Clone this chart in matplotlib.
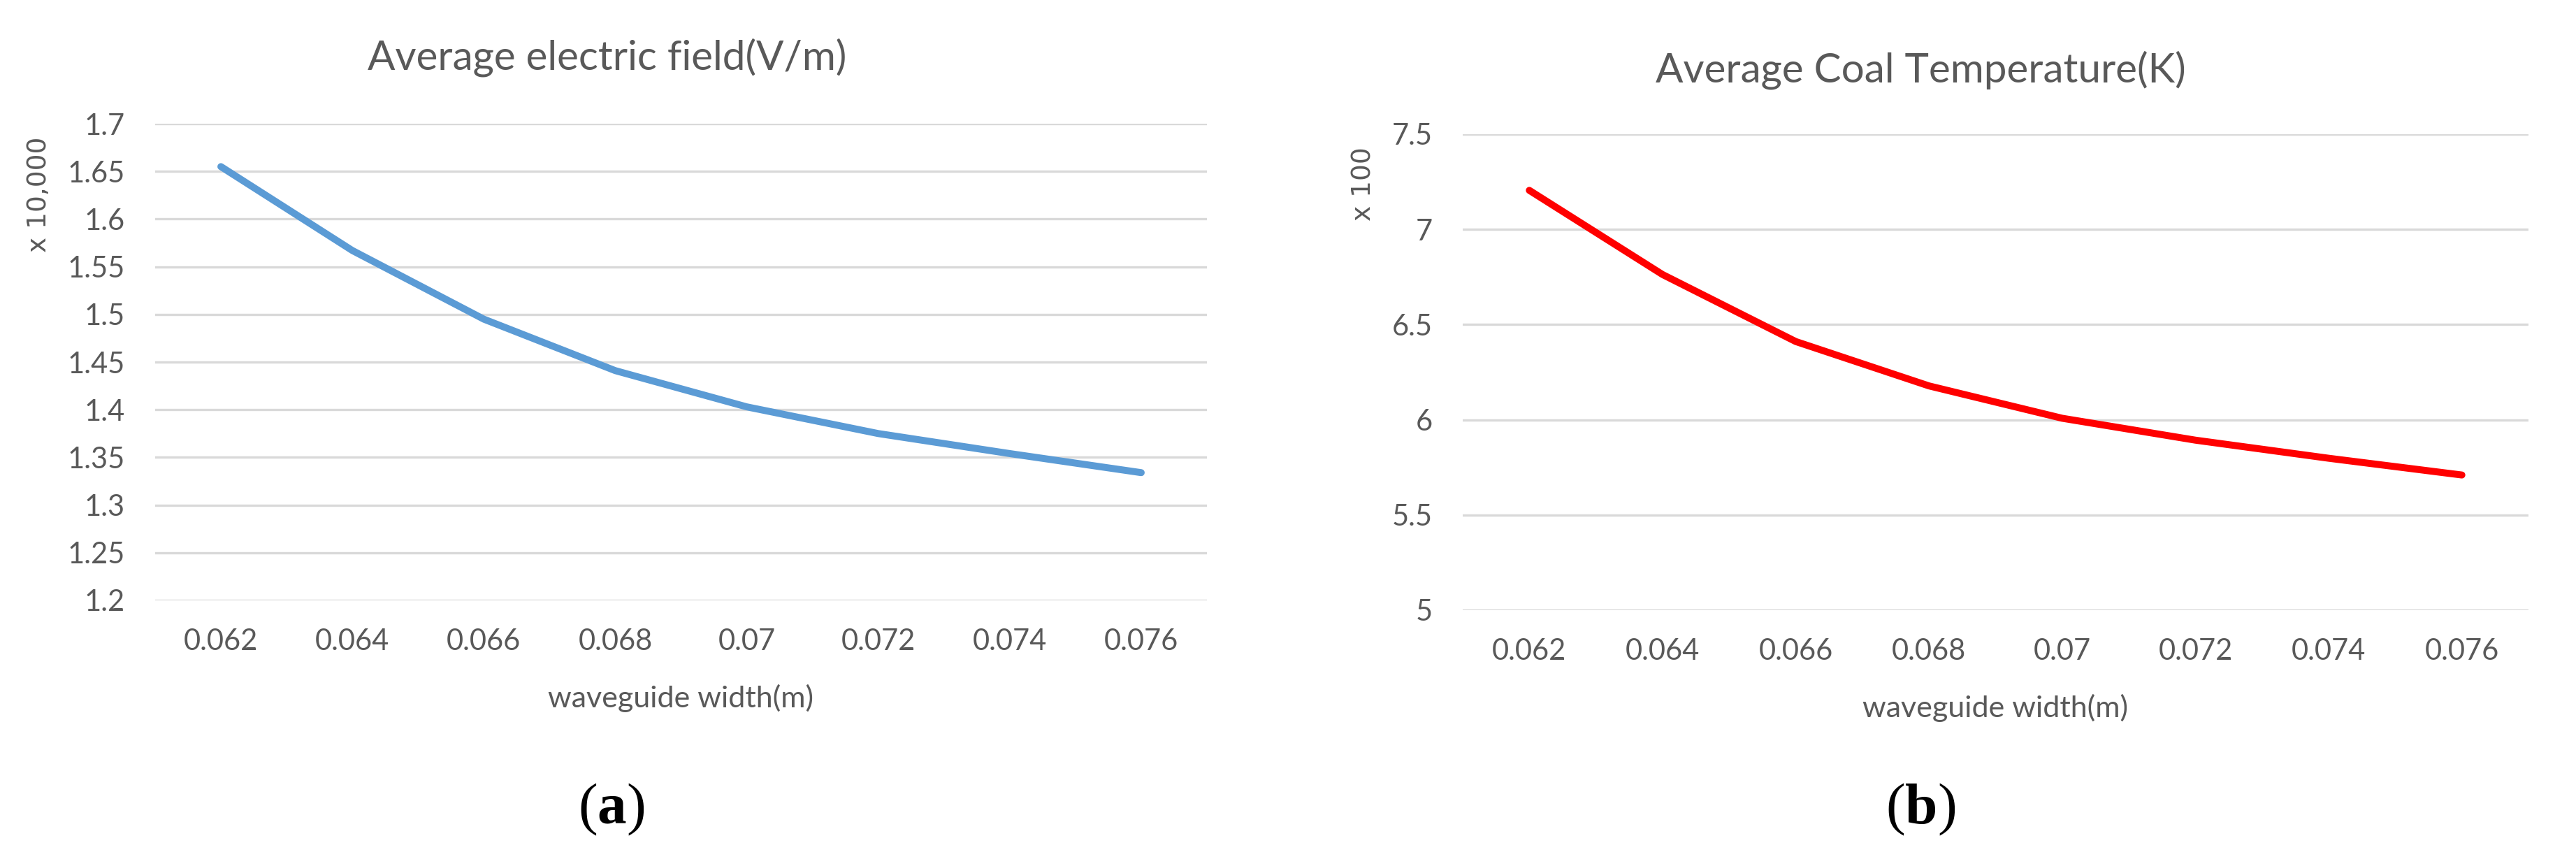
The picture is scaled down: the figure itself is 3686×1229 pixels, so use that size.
import matplotlib
matplotlib.use("Agg")
import matplotlib.pyplot as plt
from matplotlib.ticker import FixedLocator

# waveguide widths (m), shown as evenly spaced categories like the Excel chart
widths = ["0.062", "0.064", "0.066", "0.068", "0.07", "0.072", "0.074", "0.076"]

# average electric field, in units of 10,000 V/m
efield = [1.655, 1.567, 1.495, 1.441, 1.403, 1.375, 1.354, 1.334]
efield_ticks = [1.2, 1.25, 1.3, 1.35, 1.4, 1.45, 1.5, 1.55, 1.6, 1.65, 1.7]

# average coal temperature, in units of 100 K
coal_temp = [7.205, 6.763, 6.411, 6.178, 6.008, 5.893, 5.798, 5.710]
temp_ticks = [5, 5.5, 6, 6.5, 7, 7.5]

GREY = "#595959"
GRID = "#d9d9d9"
W, H = 3687, 1229

plt.rcParams["font.family"] = ["Lato", "DejaVu Sans"]
plt.rcParams["mathtext.fontset"] = "custom"
plt.rcParams["mathtext.rm"] = "Liberation Serif"
plt.rcParams["mathtext.bf"] = "Liberation Serif:bold"


def draw_panel(fig, rect, values, ticks, color, title, unit, tag, title_xy, unit_x, tag_xy):
    ax = fig.add_axes(rect)
    x = range(len(widths))
    ax.plot(x, values, color=color, lw=7.2, solid_capstyle="round", solid_joinstyle="round", zorder=3)

    ax.set_xlim(-0.5, len(widths) - 0.5)
    ax.set_ylim(ticks[0], ticks[-1])
    ax.xaxis.set_major_locator(FixedLocator(list(x)))
    ax.set_xticklabels(widths)
    ax.set_yticks(ticks)
    ax.set_yticklabels([f"{t:g}" for t in ticks])

    ax.grid(axis="y", color=GRID, lw=2.4, zorder=0)
    for s in ax.spines.values():
        s.set_visible(False)
    ax.tick_params(length=0, labelsize=30, colors=GREY)
    ax.tick_params(axis="y", pad=31)
    ax.tick_params(axis="x", pad=29)
    ax.set_xlabel("waveguide width(m)", fontsize=31, color=GREY, labelpad=30)

    # display-units label sits near the top of the value axis
    ax.text(unit_x, 0.973, unit, transform=ax.transAxes, rotation=90,
            ha="center", va="top", fontsize=27, color=GREY, family=["DejaVu Sans"])

    fig.text(title_xy[0] / W, 1 - title_xy[1] / H, title, ha="center", va="baseline",
             fontsize=42, color=GREY)
    fig.text(tag_xy[0] / W, 1 - tag_xy[1] / H, "(" + r"$\mathbf{" + tag + "}$" + ")",
             ha="center", va="baseline", fontsize=60, family=["Liberation Serif"], color="black")
    return ax


fig = plt.figure(figsize=(W / 100, H / 100), dpi=100)

draw_panel(fig, [222 / W, 1 - 859 / H, 1505 / W, 682 / H], efield, efield_ticks, "#5b9bd5",
           "Average electric field(V/m)", "x 10,000", "a", (869, 99), -0.11, (875, 1178))
draw_panel(fig, [2093 / W, 1 - 873 / H, 1525 / W, 681 / H], coal_temp, temp_ticks, "#ff0000",
           "Average Coal Temperature(K)", "x 100", "b", (2748, 117), -0.093, (2748, 1178))

fig.savefig("out.png", dpi=100, facecolor="white")
plt.close(fig)
